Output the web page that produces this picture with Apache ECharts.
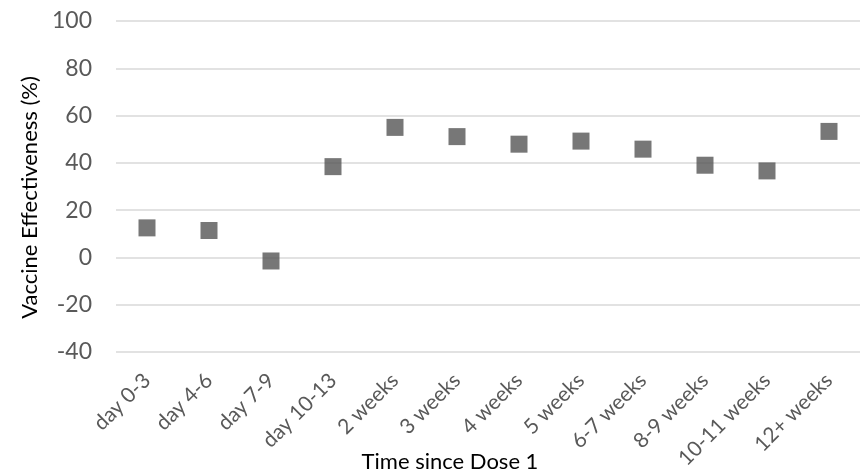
<!DOCTYPE html>
<html>
<head>
<meta charset="utf-8">
<script src="https://cdn.jsdelivr.net/npm/echarts@6/dist/echarts.min.js"></script>
<style>
  html, body { margin: 0; padding: 0; background: #ffffff; }
  #chart { width: 861px; height: 474px; }
</style>
</head>
<body>
<div id="chart"></div>
<script>
const categories = ['day 0-3', 'day 4-6', 'day 7-9', 'day 10-13', '2 weeks', '3 weeks', '4 weeks', '5 weeks', '6-7 weeks', '8-9 weeks', '10-11 weeks', '12+ weeks'];
const effectiveness = [12.5, 11.4, -1.5, 38.4, 55.0, 51.1, 47.9, 49.2, 45.8, 39.0, 36.6, 53.3];
const yTicks = [-40, -20, 0, 20, 40, 60, 80, 100];
const xTitle = 'Time since Dose 1';
const yTitle = 'Vaccine Effectiveness (%)';

const chart = echarts.init(document.getElementById('chart'), null, { renderer: 'canvas' });
const FONT = 'Lato';
chart.setOption({
  animation: false,
  backgroundColor: '#ffffff',
  grid: { left: 116, right: 1, top: 21, bottom: 122, containLabel: false, outerBoundsMode: 'none' },
  xAxis: {
    type: 'category',
    data: categories,
    boundaryGap: true,
    axisLine: { show: false },
    axisTick: { show: false },
    splitLine: { show: false },
    axisLabel: {
      interval: 0,
      rotate: 45,
      margin: 25,
      color: '#595959',
      fontFamily: FONT,
      fontSize: 21
    },
    name: xTitle,
    nameLocation: 'middle',
    nameGap: 99,
    nameMoveOverlap: false,
    nameTextStyle: {
      color: '#000000',
      fontFamily: FONT,
      fontSize: 22,
      padding: [0, 76, 0, 0]
    }
  },
  yAxis: {
    type: 'value',
    min: yTicks[0],
    max: yTicks[yTicks.length - 1],
    interval: 20,
    axisLine: { show: false },
    axisTick: { show: false },
    splitLine: { show: true, lineStyle: { color: '#d9d9d9', width: 1.5 } },
    axisLabel: {
      margin: 24,
      color: '#595959',
      fontFamily: FONT,
      fontSize: 23
    },
    name: yTitle,
    nameLocation: 'middle',
    nameGap: 75,
    nameRotate: 90,
    nameMoveOverlap: false,
    nameTextStyle: {
      color: '#000000',
      fontFamily: FONT,
      fontSize: 22,
      padding: [0, 22, 0, 0]
    }
  },
  series: [{
    type: 'scatter',
    data: effectiveness,
    symbol: 'rect',
    symbolSize: 17,
    itemStyle: { color: '#555555' }
  }]
});
</script>
</body>
</html>
